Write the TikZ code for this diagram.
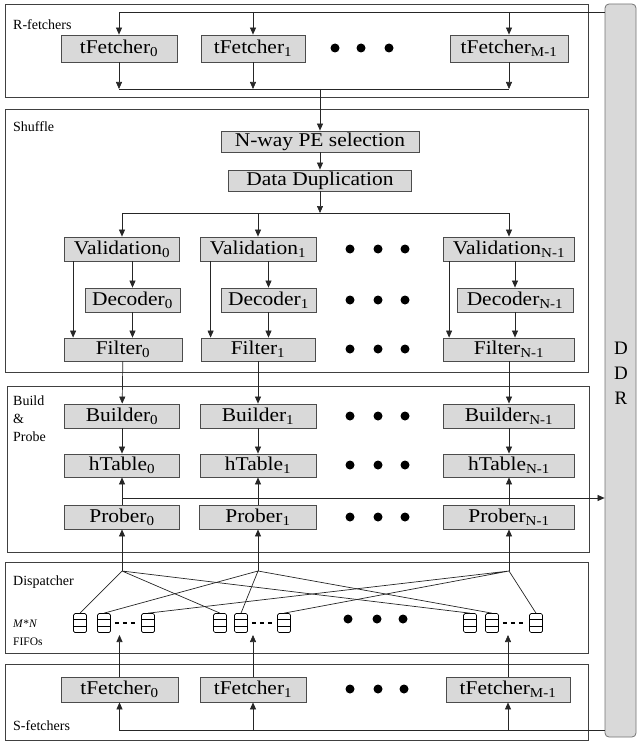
\documentclass[tikz,border=0pt]{standalone}
\usepackage{fontspec}
\setmainfont{Liberation Serif}[FakeStretch=1.1]
\newfontfamily\lblfont{Liberation Serif}
\usepackage{tikz}
\usetikzlibrary{arrows.meta, calc}

\begin{document}
\begin{tikzpicture}[
    x=1pt, y=-1pt,
    frame/.style={draw=black!75, line width=0.8pt},
    blk/.style={draw=black!70, fill=black!15, line width=0.8pt, minimum height=24pt, inner sep=1pt, font=\fontsize{19.5}{21}\selectfont},
    lbl/.style={anchor=west, inner sep=0pt, align=left, font=\lblfont\fontsize{14}{18}\selectfont},
    fifo/.style={draw, line width=0.7pt, rounded corners=1.5pt, minimum width=13pt, minimum height=19pt, inner sep=0pt,
      path picture={\draw[line width=0.7pt]
        ($(path picture bounding box.north west)!0.333!(path picture bounding box.south west)$) -- ($(path picture bounding box.north east)!0.333!(path picture bounding box.south east)$)
        ($(path picture bounding box.north west)!0.667!(path picture bounding box.south west)$) -- ($(path picture bounding box.north east)!0.667!(path picture bounding box.south east)$);}},
    wire/.style={draw=black!85, line width=0.7pt},
    arr/.style={wire, -{Triangle[length=7pt,width=6pt]}}
]
\useasboundingbox (0,0) rectangle (637,741);

% DDR column
\node[draw=black!55, fill=black!15, rounded corners=4pt, line width=0.8pt, minimum width=31pt, minimum height=733pt, inner sep=0pt] (ddr) at (620.5,370.5) {};
\node[align=center, font=\lblfont\fontsize{19}{25}\selectfont] (ddrtxt) at (621,373) {D\\D\\R};

% R-fetchers
\draw[frame] (5,4) rectangle (588,97);
\node[lbl] (rlbl) at (13,25) {R-fetchers};
\node[blk, minimum width=116pt, minimum height=27pt] (rf0) at (119,48.5) {tFetcher\textsubscript{0}};
\node[blk, minimum width=104pt, minimum height=27pt] (rf1) at (253,48.5) {tFetcher\textsubscript{1}};
\node[blk, minimum width=118pt, minimum height=27pt] (rf2) at (509,48.5) {tFetcher\textsubscript{M-1}};
\fill (335,48) circle (4.5pt) (361,48) circle (4.5pt) (389,48) circle (4.5pt);

\coordinate (rbus) at (0,12);
\coordinate (rcol) at (0,89);
\draw[arr] (ddr.west |- rbus) -| (rf0);
\draw[arr] (rf1 |- rbus) -- (rf1);
\draw[arr] (rf2 |- rbus) -- (rf2);
\draw[arr] (rf0) -- (rf0 |- rcol);
\draw[arr] (rf1) -- (rf1 |- rcol);
\draw[arr] (rf2) -- (rf2 |- rcol);
\draw[wire] (rf0 |- rcol) -- (rf2 |- rcol);

% Shuffle
\draw[frame] (5,109) rectangle (588,372);
\node[lbl] (slbl) at (13,127) {Shuffle};
\node[blk, minimum width=198pt, minimum height=21pt] (nway) at (320,141.5) {N-way PE selection};
\node[blk, minimum width=183pt, minimum height=21pt] (dup) at (320,180.5) {Data Duplication};

\node[blk, minimum width=115pt] (val0) at (122,249) {Validation\textsubscript{0}};
\node[blk, minimum width=116pt] (val1) at (258,249) {Validation\textsubscript{1}};
\node[blk, minimum width=131pt] (val2) at (509,249) {Validation\textsubscript{N-1}};
\node[blk, minimum width=95pt] (dec0) at (132.5,300) {Decoder\textsubscript{0}};
\node[blk, minimum width=95pt] (dec1) at (268.5,300) {Decoder\textsubscript{1}};
\node[blk, minimum width=116pt] (dec2) at (515,300) {Decoder\textsubscript{N-1}};
\node[blk, minimum width=118pt, minimum height=23pt] (flt0) at (123,349.5) {Filter\textsubscript{0}};
\node[blk, minimum width=114pt, minimum height=23pt] (flt1) at (258,349.5) {Filter\textsubscript{1}};
\node[blk, minimum width=131pt, minimum height=23pt] (flt2) at (509,349.5) {Filter\textsubscript{N-1}};
\fill (350,249) circle (4.5pt) (378,249) circle (4.5pt) (405,249) circle (4.5pt);
\fill (350,300) circle (4.5pt) (378,300) circle (4.5pt) (405,300) circle (4.5pt);
\fill (350,349) circle (4.5pt) (378,349) circle (4.5pt) (405,349) circle (4.5pt);

\coordinate (split) at (0,213);
\draw[arr] (nway |- rcol) -- (nway);
\draw[arr] (nway) -- (dup);
\draw[arr] (dup) -- (dup |- split);
\draw[wire] (val0 |- split) -- (val2 |- split);
\draw[arr] (val0 |- split) -- (val0);
\draw[arr] (val1 |- split) -- (val1);
\draw[arr] (val2 |- split) -- (val2);
\draw[arr] (val0.south -| dec0) -- (dec0);
\draw[arr] (val1.south -| dec1) -- (dec1);
\draw[arr] (val2.south -| dec2) -- (dec2);
\draw[arr] ($(val0.south west)+(9,0)$) -- ($(val0.south west |- flt0.north)+(9,0)$);
\draw[arr] ($(val1.south west)+(11,0)$) -- ($(val1.south west |- flt1.north)+(11,0)$);
\draw[arr] ($(val2.south west)+(6,0)$) -- ($(val2.south west |- flt2.north)+(6,0)$);
\draw[arr] (dec0) -- (dec0 |- flt0.north);
\draw[arr] (dec1) -- (dec1 |- flt1.north);
\draw[arr] (dec2) -- (dec2 |- flt2.north);

% Build & Probe
\draw[frame] (7,386) rectangle (589,552);
\node[lbl] (blbl) at (13,419) {Build\\\&\\Probe};
\node[blk, minimum width=115pt] (bld0) at (122,416) {Builder\textsubscript{0}};
\node[blk, minimum width=116pt] (bld1) at (258,416) {Builder\textsubscript{1}};
\node[blk, minimum width=131pt] (bld2) at (509,416) {Builder\textsubscript{N-1}};
\node[blk, minimum width=115pt, minimum height=23pt] (htb0) at (122,465.5) {hTable\textsubscript{0}};
\node[blk, minimum width=116pt, minimum height=23pt] (htb1) at (258,465.5) {hTable\textsubscript{1}};
\node[blk, minimum width=131pt, minimum height=23pt] (htb2) at (509,465.5) {hTable\textsubscript{N-1}};
\node[blk, minimum width=115pt] (prb0) at (122,517) {Prober\textsubscript{0}};
\node[blk, minimum width=117pt] (prb1) at (258,517) {Prober\textsubscript{1}};
\node[blk, minimum width=131pt] (prb2) at (509,517) {Prober\textsubscript{N-1}};
\fill (350,416) circle (4.5pt) (378,416) circle (4.5pt) (405,416) circle (4.5pt);
\fill (350,465) circle (4.5pt) (378,465) circle (4.5pt) (405,465) circle (4.5pt);
\fill (350,517) circle (4.5pt) (378,517) circle (4.5pt) (405,517) circle (4.5pt);

\coordinate (hbus) at (0,498);
\draw[arr] (flt0) -- (bld0);
\draw[arr] (flt1) -- (bld1);
\draw[arr] (flt2) -- (bld2);
\draw[arr] (bld0) -- (htb0);
\draw[arr] (bld1) -- (htb1);
\draw[arr] (bld2) -- (htb2);
\draw[arr] (prb0) -- (htb0);
\draw[arr] (prb1) -- (htb1);
\draw[arr] (prb2) -- (htb2);
\draw[arr] (prb0 |- hbus) -- (ddr.west |- hbus);

% Dispatcher
\draw[frame] (5,562) rectangle (588,653);
\node[lbl] (dlbl) at (13,582) {Dispatcher};
\node[lbl, font=\lblfont\fontsize{11.5}{13}\selectfont] (mnlbl) at (13,624) {\textit{M}*\textit{N}};
\node[lbl, font=\lblfont\fontsize{11.5}{13}\selectfont] (flbl) at (13,642) {FIFOs};

\node[fifo] (f00) at (80,623) {};
\node[fifo] (f01) at (104,623) {};
\node[fifo] (f02) at (148,623) {};
\node[fifo] (f10) at (220,623) {};
\node[fifo] (f11) at (241,623) {};
\node[fifo] (f12) at (284,623) {};
\node[fifo] (f20) at (470,623) {};
\node[fifo] (f21) at (492,623) {};
\node[fifo] (f22) at (536,623) {};
\draw[line width=1.2pt, dash pattern=on 4pt off 4pt, shorten <=4pt, shorten >=3pt] (f01.east) -- (f02.west);
\draw[line width=1.2pt, dash pattern=on 4pt off 4pt, shorten <=4pt, shorten >=3pt] (f11.east) -- (f12.west);
\draw[line width=1.2pt, dash pattern=on 4pt off 4pt, shorten <=4pt, shorten >=3pt] (f21.east) -- (f22.west);
\fill (348,619) circle (4.5pt) (377,619) circle (4.5pt) (403,619) circle (4.5pt);

\coordinate (jrow) at (0,571);
\coordinate (j0) at (prb0 |- jrow);
\coordinate (j1) at (prb1 |- jrow);
\coordinate (j2) at (prb2 |- jrow);
\draw[arr] (j0) -- (prb0);
\draw[arr] (j1) -- (prb1);
\draw[arr] (j2) -- (prb2);
\draw[wire] (j0) -- (f00.north) (j0) -- (f10.north) (j0) -- (f20.north);
\draw[wire] (j1) -- (f01.north) (j1) -- (f11.north) (j1) -- (f21.north);
\draw[wire] (j2) -- (f02.north) (j2) -- (f12.north) (j2) -- (f22.north);

% S-fetchers
\draw[frame] (5,664) rectangle (588,740);
\node[lbl] (sflbl) at (13,726) {S-fetchers};
\node[blk, minimum width=117pt, minimum height=25pt] (sf0) at (119.5,689.5) {tFetcher\textsubscript{0}};
\node[blk, minimum width=106pt, minimum height=25pt] (sf1) at (253,689.5) {tFetcher\textsubscript{1}};
\node[blk, minimum width=124pt, minimum height=25pt] (sf2) at (508,689.5) {tFetcher\textsubscript{M-1}};
\fill (350,689) circle (4.5pt) (378,689) circle (4.5pt) (404,689) circle (4.5pt);

\coordinate (ftip) at (0,635);
\coordinate (sbus) at (0,730);
\draw[arr] (sf0) -- (sf0 |- ftip);
\draw[arr] (sf1) -- (sf1 |- ftip);
\draw[arr] (sf2) -- (sf2 |- ftip);
\draw[arr] (ddr.west |- sbus) -| (sf0);
\draw[arr] (sf1 |- sbus) -- (sf1);
\draw[arr] (sf2 |- sbus) -- (sf2);
\end{tikzpicture}
\end{document}
